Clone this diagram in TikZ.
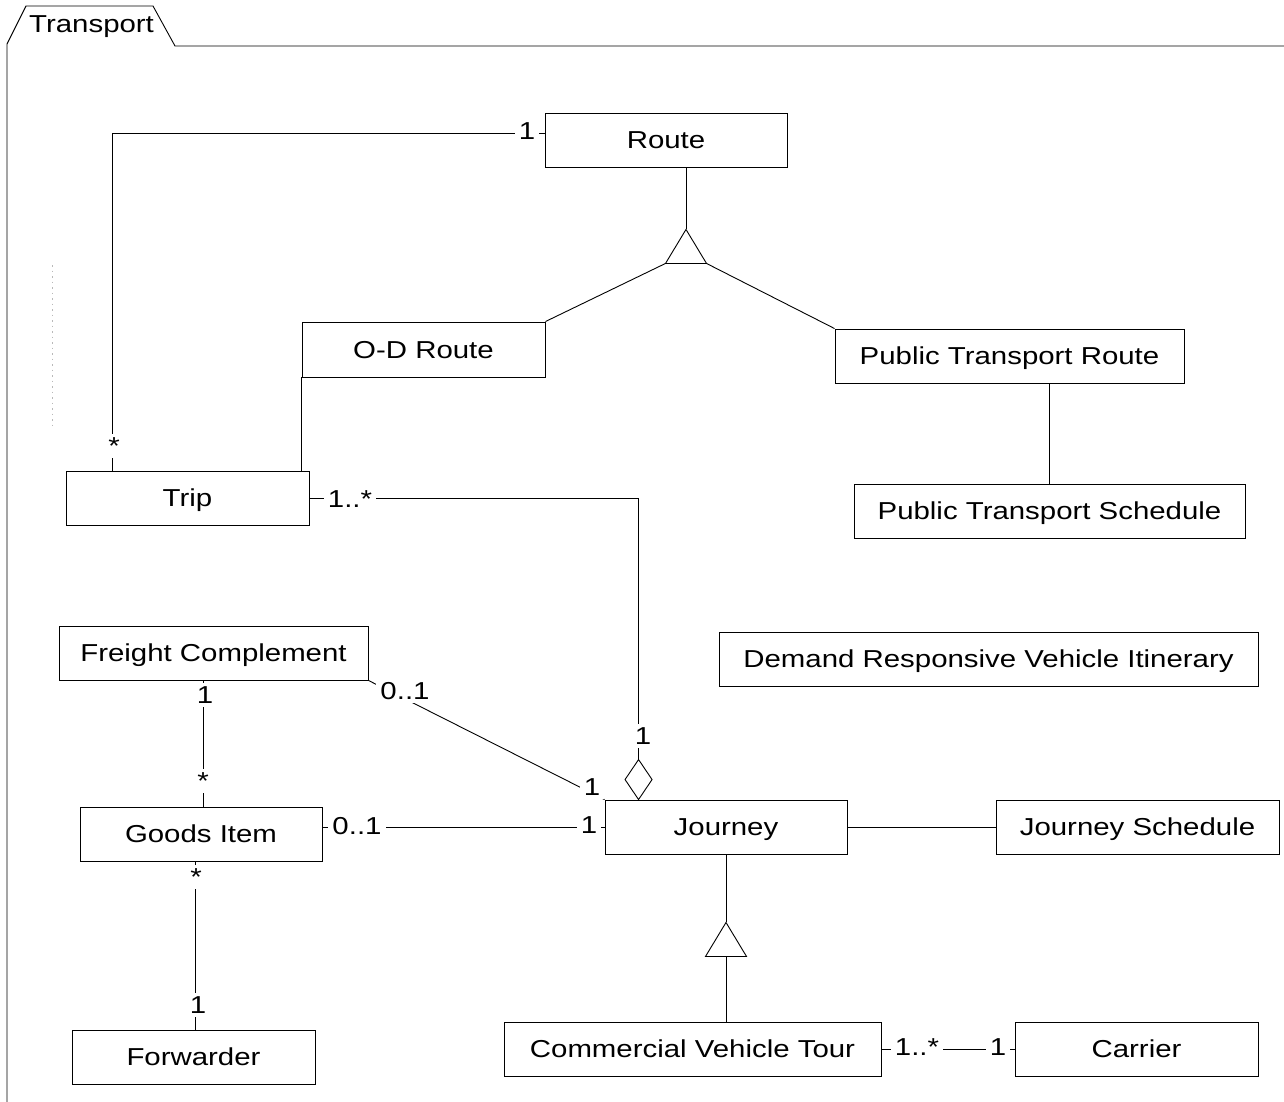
\documentclass[tikz,border=0pt]{standalone}
\usepackage{fontspec}
\setmainfont{Liberation Sans}[FakeStretch=1.2]
\usetikzlibrary{calc}
\begin{document}
\begin{tikzpicture}[x=1pt,y=-1pt,
  every node/.style={font=\fontsize{24.5}{28}\selectfont},
  cls/.style={draw, line width=0.9pt, inner sep=0pt, minimum height=54pt, text height=17.6pt, text depth=0pt},
  mult/.style={fill=white, inner xsep=4pt, inner ysep=3pt, text height=17.6pt, text depth=0pt},
  conn/.style={line width=0.9pt},
  gen/.style={line width=0.9pt, fill=white}]
\useasboundingbox (0,0) rectangle (1284,1102);

% package frame
\draw[conn] (7,1102) -- (7,44) -- (26,6) -- (153,6) -- (175,46) -- (1284,46);
\node[anchor=base west, inner sep=0pt] (pkg) at (29,33) {Transport};

% faint artifact
\draw[gray!55, line width=0.6pt, dash pattern=on 1.5pt off 4pt] (52,265) -- (52,425);

% classes
\node[cls, minimum width=242pt] (route) at (666,140) {Route};
\node[cls, minimum width=243pt, minimum height=55pt] (odroute) at (423.5,349.5) {O-D Route};
\node[cls, minimum width=349pt] (ptr) at (1009.5,356) {Public Transport Route};
\node[cls, minimum width=391pt] (pts) at (1049.5,511) {Public Transport Schedule};
\node[cls, minimum width=243pt] (trip) at (187.5,498) {Trip};
\node[cls, minimum width=309pt] (fc) at (213.5,653) {Freight Complement};
\node[cls, minimum width=539pt] (drvi) at (988.5,659) {Demand Responsive Vehicle Itinerary};
\node[cls, minimum width=242pt] (gi) at (201,834) {Goods Item};
\node[cls, minimum width=242pt] (journey) at (726,827) {Journey};
\node[cls, minimum width=283pt] (js) at (1137.5,827) {Journey Schedule};
\node[cls, minimum width=243pt] (fwd) at (193.5,1057) {Forwarder};
\node[cls, minimum width=377pt] (cvt) at (692.5,1049) {Commercial Vehicle Tour};
\node[cls, minimum width=243pt] (carrier) at (1136.5,1049) {Carrier};

% Route generalization
\coordinate (g1apex) at ($(route.south)+(20,62)$);
\coordinate (g1l) at ($(g1apex)+(-20.5,34)$);
\coordinate (g1r) at ($(g1apex)+(20.5,34)$);
\draw[conn] ($(route.south)+(20,0)$) -- (g1apex);
\draw[conn] (g1l) -- (odroute.north east);
\draw[conn] (g1r) -- (ptr.north west);
\draw[gen] (g1apex) -- (g1l) -- (g1r) -- cycle;

% PTR - PTS
\draw[conn] ($(ptr.south)+(39.5,0)$) coordinate (p1) -- (p1 |- pts.north);

% Route - Trip
\draw[conn] ($(route.west)+(0,-7)$) -| ($(trip.north west)+(47,0)$);
\node[mult] (m1) at (527,131) {1};
\node[mult] (m2) at (114,446) {*};

% O-D Route - Trip
\draw[conn] (odroute.south west) -- (odroute.south west |- trip.north);

% Trip - Journey aggregation
\coordinate (dtop) at ($(journey.north west)+(34,-40)$);
\draw[conn] (trip.east) -| (dtop);
\draw[gen] (dtop) -- ++(13.5,20) -- ++(-13.5,20) -- ++(-13.5,-20) -- cycle;
\node[mult] (m3) at (350,499) {1..*};
\node[mult] (m4) at (643,736) {1};

% Freight Complement - Goods Item
\draw[conn] ($(gi.north)+(2,0)$) coordinate (b1) -- (b1 |- fc.south);
\node[mult] (m5) at (205,695) {1};
\node[mult] (m6) at (203,781) {*};

% Goods Item - Forwarder
\draw[conn] ($(fwd.north)+(1.5,0)$) coordinate (c1) -- (c1 |- gi.south);
\node[mult] (m7) at (196,877) {*};
\node[mult] (m8) at (198,1005) {1};

% Freight Complement - Journey
\draw[conn] (fc.south east) -- (journey.north west);
\node[mult] (m9) at (405,691) {0..1};
\node[mult] (m10) at (592,787) {1};

% Goods Item - Journey
\draw[conn] (journey.west) -- (journey.west -| gi.east);
\node[mult] (m11) at (357,826) {0..1};
\node[mult] (m12) at (589,825) {1};

% Journey - Journey Schedule
\draw[conn] (journey.east) -- (js.west);

% Journey generalization
\coordinate (g2apex) at ($(journey.south)+(0,68)$);
\coordinate (g2l) at ($(g2apex)+(-20.5,34)$);
\coordinate (g2r) at ($(g2apex)+(20.5,34)$);
\draw[conn] (journey.south) -- (g2apex);
\draw[conn] ($(g2apex)+(0,34)$) coordinate (g2b) -- (g2b |- cvt.north);
\draw[gen] (g2apex) -- (g2l) -- (g2r) -- cycle;

% CVT - Carrier
\draw[conn] (cvt.east) -- (carrier.west);
\node[mult] (m13) at (917,1047) {1..*};
\node[mult] (m14) at (998,1047) {1};
\end{tikzpicture}
\end{document}
